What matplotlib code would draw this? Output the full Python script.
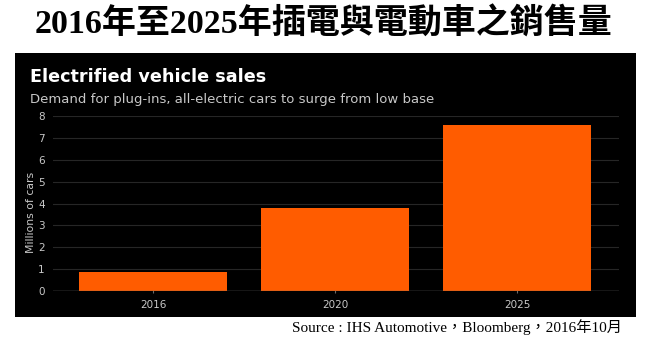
import matplotlib.pyplot as plt
from matplotlib.patches import Rectangle
import numpy as np

# data
years = ['2016', '2020', '2025']
sales = [0.85, 3.8, 7.6]   # millions of cars
yticks = [0, 1, 2, 3, 4, 5, 6, 7, 8]

W, H = 653, 339
fig = plt.figure(figsize=(W / 100, H / 100), dpi=100)
fig.patch.set_facecolor('white')

# black Bloomberg panel
fig.patches.append(Rectangle((15 / W, (H - 317) / H), (636 - 15) / W, (317 - 53) / H,
                             transform=fig.transFigure, facecolor='black',
                             edgecolor='none', zorder=-10))

serif_cjk = ['Liberation Serif', 'Noto Sans CJK TC']
fig.text(323 / W, (H - 24) / H, '2016年至2025年插電與電動車之銷售量',
         family=serif_cjk, weight='bold', fontsize=24.5, color='black',
         ha='center', va='center')

fig.text(30 / W, (H - 77) / H, 'Electrified vehicle sales', color='white',
         fontsize=12.7, weight='bold', family='DejaVu Sans', ha='left', va='center')
fig.text(30 / W, (H - 99) / H,
         'Demand for plug-ins, all-electric cars to surge from low base',
         color='#c8c8c8', fontsize=9.5, family='DejaVu Sans', ha='left', va='center')

ax = fig.add_axes([53 / W, (H - 290.7) / H, (619 - 53) / W, (290.7 - 116.3) / H])
ax.set_zorder(5)
ax.set_facecolor('black')
x = np.arange(len(years))
ax.bar(x, sales, width=0.81, color='#ff5c00', zorder=3)
ax.set_xlim(-0.55, 2.56)
ax.set_ylim(0, 8)
ax.set_yticks(yticks)
ax.set_xticks(x)
ax.set_xticklabels(years)
ax.grid(axis='y', color='#262626', linewidth=0.8, zorder=0)
ax.axhline(0, color='#6a6a6a', linewidth=1, zorder=4)
for s in ax.spines.values():
    s.set_visible(False)
ax.tick_params(axis='y', length=0, labelsize=7.5, labelcolor='#c8c8c8', pad=6)
ax.tick_params(axis='x', length=3, color='#6a6a6a', direction='inout',
               labelsize=7.5, labelcolor='#c8c8c8', pad=5)
ax.set_ylabel('Millions of cars', color='#c8c8c8', fontsize=7.8)
ax.yaxis.set_label_coords(-0.03, 0.45)

fig.text(622 / W, (H - 327) / H,
         'Source : IHS Automotive，Bloomberg，2016年10月',
         family=serif_cjk, fontsize=11, color='black', ha='right', va='center')

fig.savefig('out.png', dpi=100, facecolor='white')
